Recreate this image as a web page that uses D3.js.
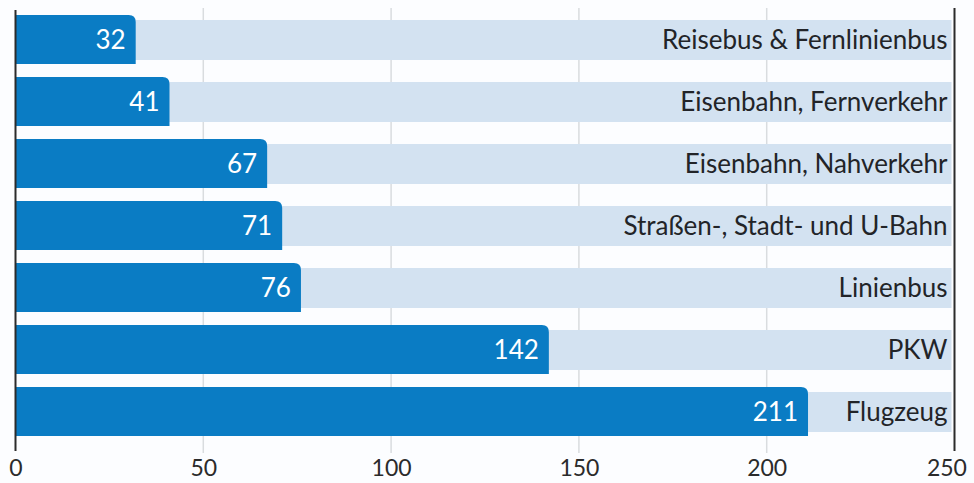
<!DOCTYPE html>
<html><head><meta charset="utf-8">
<script src="https://cdn.jsdelivr.net/npm/d3@7"></script>
<style>
html,body{margin:0;padding:0;background:#fcfdff;}
svg{display:block;}
</style></head>
<body>
<svg id="chart" width="974" height="483"></svg>
<script>
const categories = ["Reisebus & Fernlinienbus","Eisenbahn, Fernverkehr","Eisenbahn, Nahverkehr","Straßen-, Stadt- und U-Bahn","Linienbus","PKW","Flugzeug"];
const values = [32,41,67,71,76,142,211];
const tickValues = [0,50,100,150,200,250];

const svg = d3.select("#chart");
const x = d3.scaleLinear().domain([0,250]).range([15.5,954.5]);
const y = d3.scaleBand().domain(categories).range([15,436]).paddingInner(13/62).paddingOuter(0);
const font = "Lato, 'Open Sans', sans-serif";

// gridlines
svg.append("g").selectAll("line").data(tickValues.filter(d=>d>0&&d<250)).join("line")
  .attr("x1",d=>x(d)).attr("x2",d=>x(d)).attr("y1",8).attr("y2",453)
  .attr("stroke","#d9dcdf").attr("stroke-width",1.5);

// light background bands
const bandTop = 5, bandH = 40;
svg.append("g").selectAll("rect").data(categories).join("rect")
  .attr("x",x(0)).attr("width",x(250)-3-x(0))
  .attr("y",d=>y(d)+bandTop).attr("height",bandH)
  .attr("fill","#d3e2f1");

// dark bars with rounded top-right corner
const r = 7;
svg.append("g").selectAll("path").data(values).join("path")
  .attr("d",(v,i)=>{
    const x0 = x(0), x1 = x(v), y0 = y(categories[i]), y1 = y0 + y.bandwidth();
    return `M${x0},${y0}H${x1-r}Q${x1},${y0} ${x1},${y0+r}V${y1}H${x0}Z`;
  })
  .attr("fill","#0a7cc4");

// value labels
svg.append("g").selectAll("text").data(values).join("text")
  .attr("x",v=>x(v)-10).attr("y",(v,i)=>y(categories[i])+y.bandwidth()/2)
  .attr("dy","0.36em").attr("text-anchor","end")
  .attr("fill","#ffffff").attr("font-family",font).attr("font-size",26)
  .text(v=>v);

// category labels
svg.append("g").selectAll("text").data(categories).join("text")
  .attr("x",x(250)-7).attr("y",d=>y(d)+bandTop+bandH/2)
  .attr("dy","0.36em").attr("text-anchor","end")
  .attr("fill","#222428").attr("font-family",font).attr("font-size",26)
  .text(d=>d);

// axes lines
svg.append("line").attr("x1",x(0)).attr("x2",x(0)).attr("y1",10).attr("y2",451)
  .attr("stroke","#2b2b2b").attr("stroke-width",2);
svg.append("line").attr("x1",x(250)).attr("x2",x(250)).attr("y1",8).attr("y2",451)
  .attr("stroke","#2b2b2b").attr("stroke-width",2);

// bottom axis labels
const axis = d3.axisBottom(x).tickValues(tickValues).tickSize(0).tickPadding(0);
const ga = svg.append("g").attr("transform","translate(0,459)").call(axis);
ga.select(".domain").remove();
ga.selectAll("text").attr("font-family",font).attr("font-size",23).attr("fill","#2b2b2b").attr("dy","0.75em")
  .attr("dx",d=>d===250?"-0.35em":0);
</script>
</body></html>
